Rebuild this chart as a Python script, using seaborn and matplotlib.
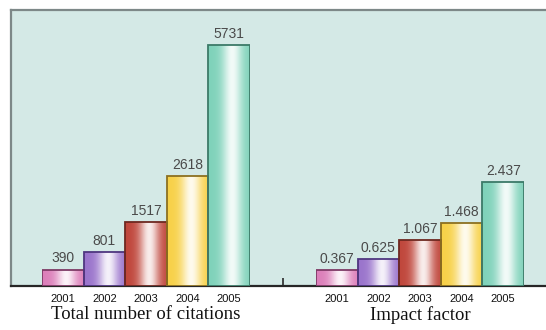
import numpy as np
import matplotlib
matplotlib.use("Agg")
import matplotlib.pyplot as plt
import seaborn as sns
from matplotlib.colors import to_rgb

years = ["2001", "2002", "2003", "2004", "2005"]
citations = [390, 801, 1517, 2618, 5731]
impact = [0.367, 0.625, 1.067, 1.468, 2.437]
impact_labels = ["0.367", "0.625", "1.067", "1.468", "2.437"]
titles = ["Total number of citations", "Impact factor"]

bar_colors = ["#dc7fba", "#9a74cc", "#c0473c", "#f7d148", "#7fd2ba"]
edge_colors = ["#7e3a66", "#4f3680", "#6e2820", "#8c7020", "#3c7a68"]

sns.set_theme(style="white")
plt.rcParams["font.family"] = ["Liberation Sans", "DejaVu Sans"]

W, H = 546, 330
fig = plt.figure(figsize=(W / 100, H / 100), dpi=100)
fig.patch.set_facecolor("white")


def px_rect(x0, y0, x1, y1):
    # pixel box (top-left origin) -> figure fraction rect
    return [x0 / W, 1 - y1 / H, (x1 - x0) / W, (y1 - y0) / H]


# background panel
panel = fig.add_axes(px_rect(11, 10, 552, 286))
panel.set_facecolor("#d4e9e6")
panel.set_xlim(11, 552)
panel.set_ylim(0, 1)
panel.set_yticks([])
panel.set_xticks([283])
panel.tick_params(axis="x", direction="in", length=6, width=1.2,
                  color="#2a2a2a", labelbottom=False, bottom=True)
for side in ["top", "left"]:
    panel.spines[side].set_color("#7d8888")
    panel.spines[side].set_linewidth(1.6)
panel.spines["right"].set_visible(False)
panel.spines["bottom"].set_color("#262626")
panel.spines["bottom"].set_linewidth(1.6)


def shade(ax, values, top, labels, title):
    sns.barplot(x=years, y=values, hue=years, palette=bar_colors, width=1.0,
                legend=False, ax=ax, saturation=1)
    ax.set_xlim(-0.5, 4.5)
    ax.set_ylim(0, top)
    ax.patch.set_alpha(0)
    for s in ax.spines.values():
        s.set_visible(False)
    ax.set_yticks([])
    ax.tick_params(axis="x", length=0, pad=6, labelsize=8, labelcolor="#111111")
    ax.set_ylabel("")
    ax.set_xlabel(title, family=["Liberation Serif", "DejaVu Serif"],
                  fontsize=13.5, color="#111111", labelpad=1)
    t = np.linspace(0, 1, 64)
    w = 0.9 * np.exp(-((t - 0.58) / 0.24) ** 2)
    for patch, col, ecol, lab in zip(ax.patches, bar_colors, edge_colors, labels):
        base = np.array(to_rgb(col))
        row = base[None, :] * (1 - w[:, None]) + w[:, None]
        img = np.tile(row[None, :, :], (2, 1, 1))
        x0, wd, h = patch.get_x(), patch.get_width(), patch.get_height()
        im = ax.imshow(img, extent=(x0, x0 + wd, 0, h), aspect="auto",
                       zorder=1, interpolation="bilinear")
        im.set_clip_path(patch)
        patch.set_facecolor("none")
        patch.set_edgecolor(ecol)
        patch.set_linewidth(1.3)
        patch.set_zorder(2)
        ax.annotate(lab, (x0 + wd / 2, h), xytext=(0, 3), textcoords="offset points",
                    ha="center", va="bottom", fontsize=10, color="#4a4a4a")
    ax.set_xlim(-0.5, 4.5)
    ax.set_ylim(0, top)


ax1 = fig.add_axes(px_rect(42, 10, 250, 286))
shade(ax1, citations, 5731 * 276 / 241, [str(v) for v in citations], titles[0])

ax2 = fig.add_axes(px_rect(316, 10, 524, 286))
shade(ax2, impact, 2.437 * 276 / 104, impact_labels, titles[1])

fig.savefig("out.png", dpi=100)
